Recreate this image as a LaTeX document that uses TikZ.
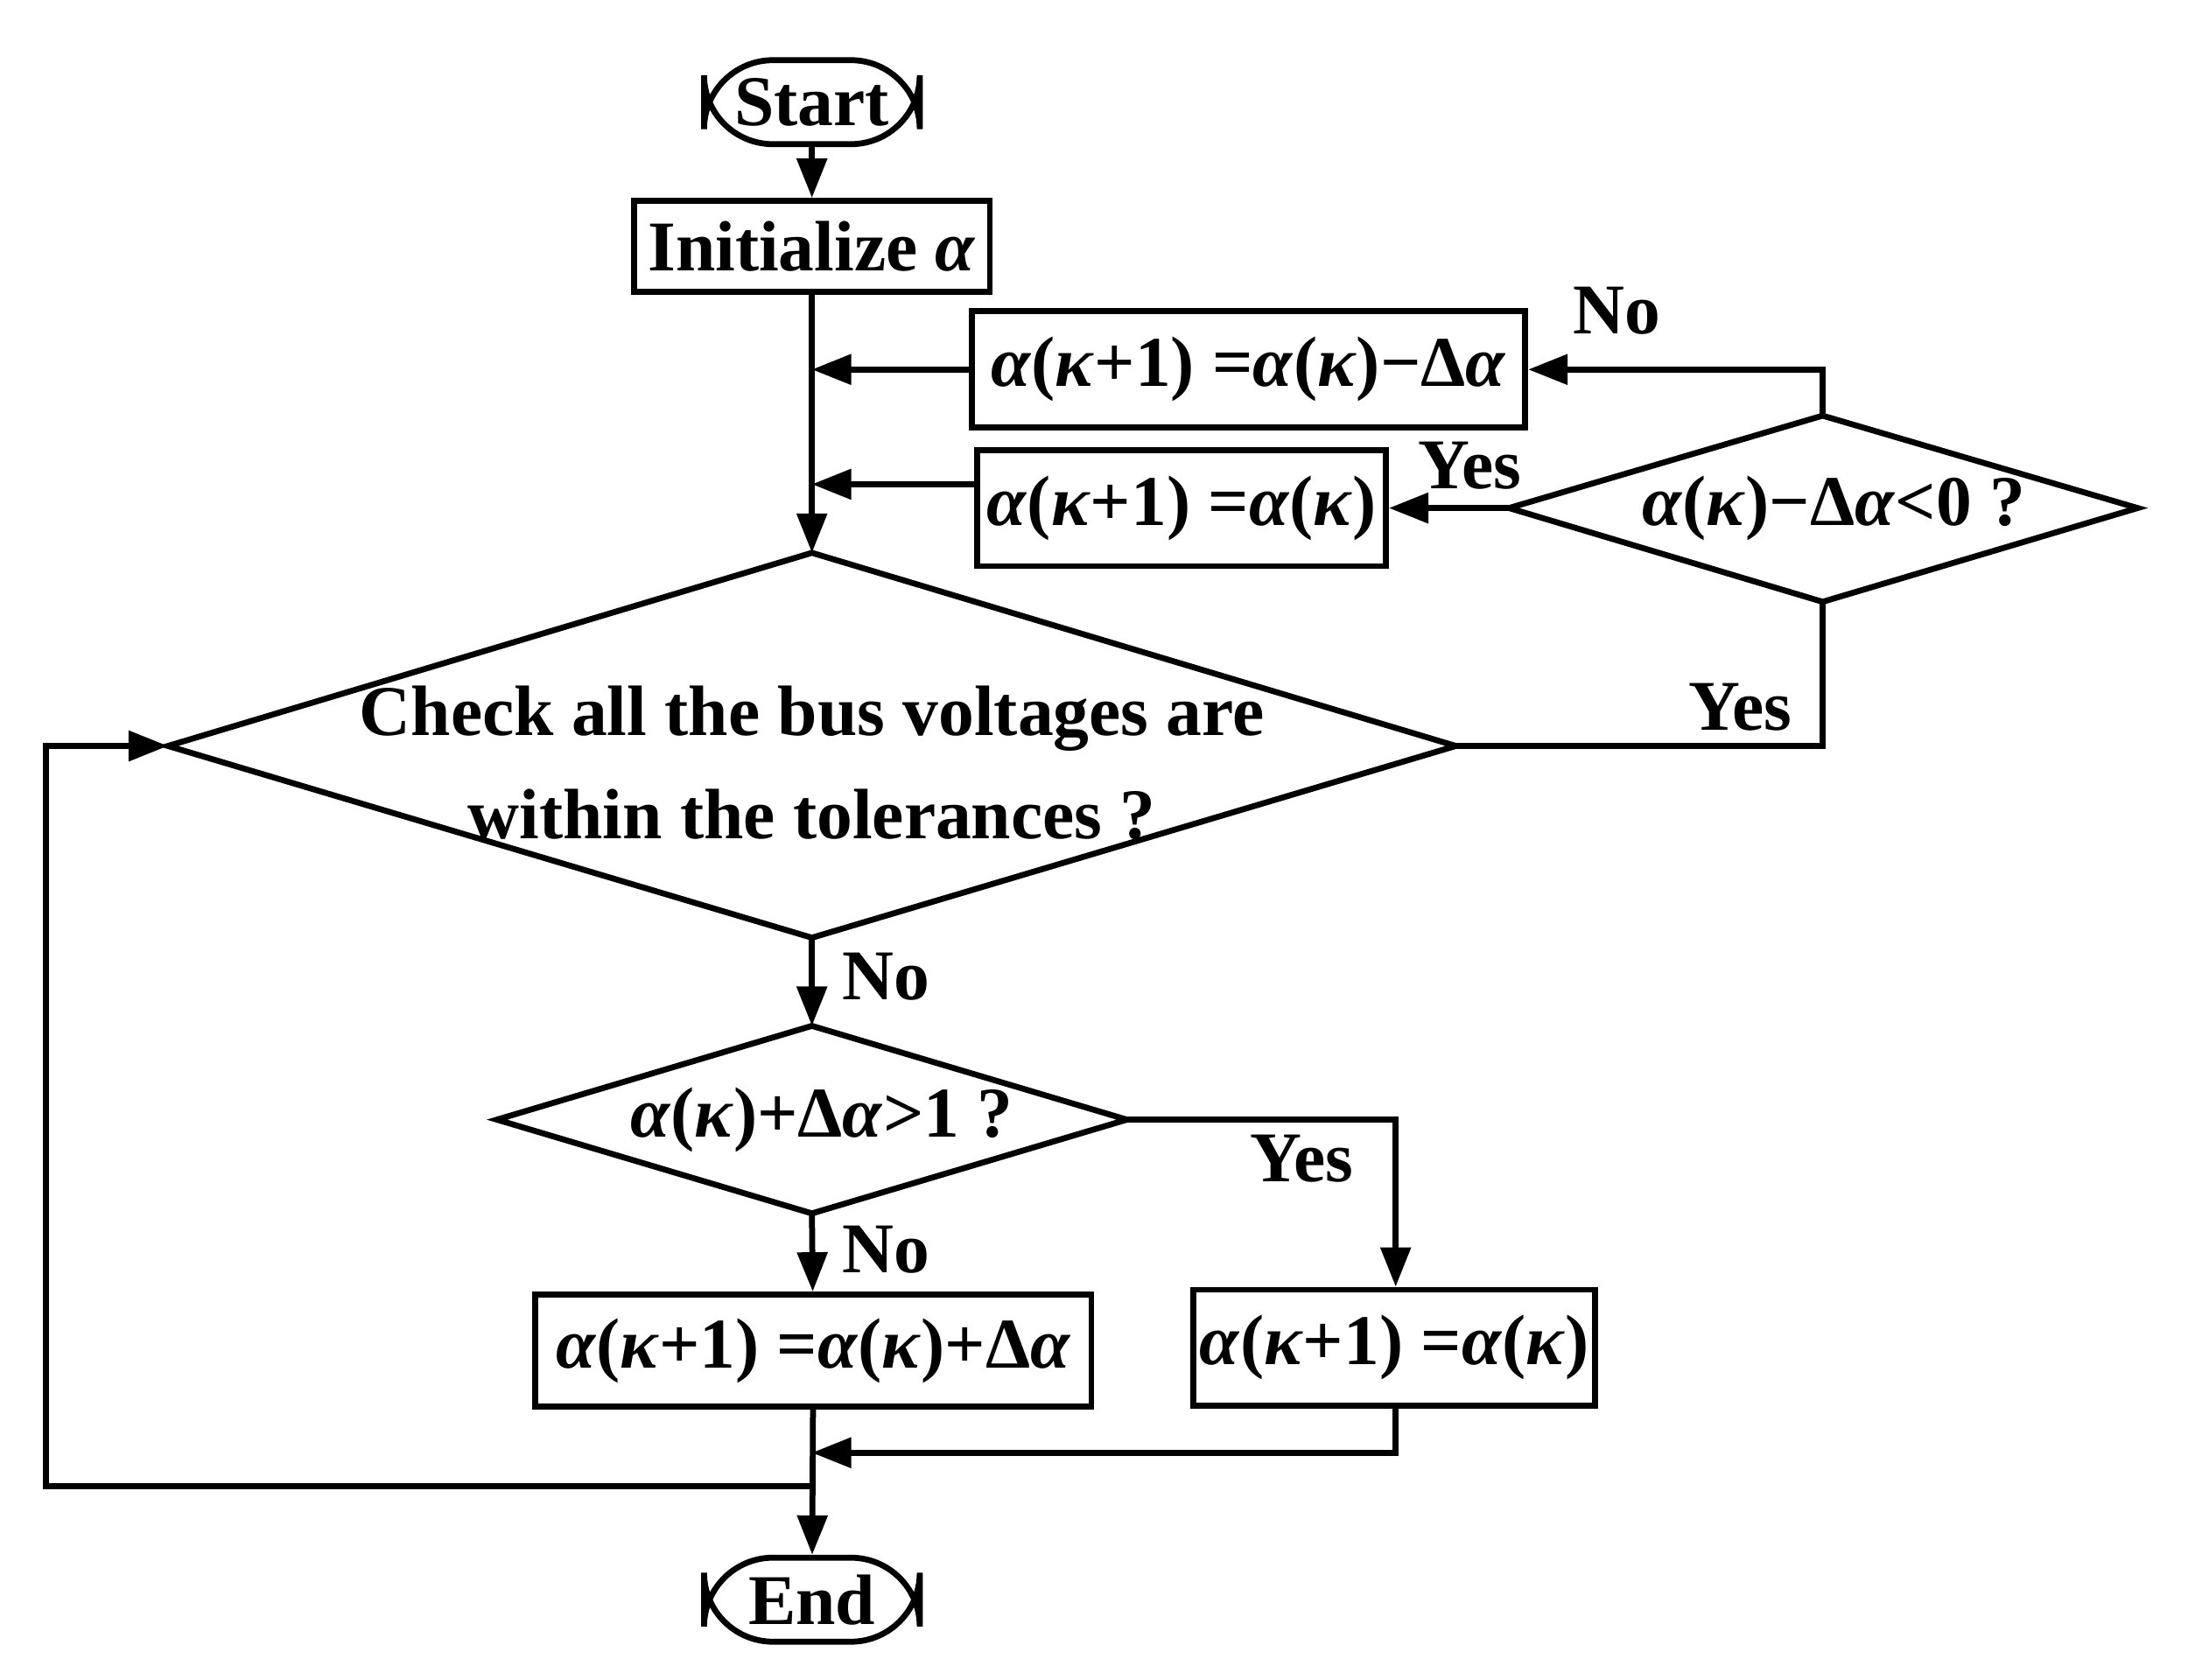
\documentclass[tikz,border=0pt]{standalone}
\usepackage{fontspec}
\setmainfont{Liberation Serif}
\usetikzlibrary{arrows.meta}
\newcommand{\al}{\textit{α}}
\newcommand{\ka}{\textit{κ}}
\begin{document}
\begin{tikzpicture}[x=0.01cm,y=-0.01cm,
  every node/.style={font=\fontsize{14.5}{17}\selectfont\bfseries},
  ln/.style={line width=1.2pt},
  ar/.style={ln,-{Triangle[length=8pt,width=6pt]}},
  box/.style={draw,line width=1.2pt,inner sep=0pt},
  term/.style={box,rounded corners=14pt},
  lab/.style={inner sep=0pt}]
\useasboundingbox (0,0) rectangle (1568,1200);
\node[term,minimum width=154\pgflinewidth*0+1.54cm,minimum height=0.6cm] (start) at (580,73) {Start};
\node[box,minimum width=2.54cm,minimum height=0.65cm] (init) at (580,176) {Initialize \al};
\node[box,minimum width=3.95cm,minimum height=0.83cm] (b1) at (892,264) {\al(\ka+1) =\al(\ka)−Δ\al};
\node[box,minimum width=2.92cm,minimum height=0.83cm] (b2) at (844,363) {\al(\ka+1) =\al(\ka)};
\node[box,minimum width=3.97cm,minimum height=0.80cm] (b3) at (581,965) {\al(\ka+1) =\al(\ka)+Δ\al};
\node[box,minimum width=2.87cm,minimum height=0.83cm] (b4) at (996,963) {\al(\ka+1) =\al(\ka)};
\node[term,minimum width=1.54cm,minimum height=0.6cm] (end) at (580,1143) {End};
% diamonds
\coordinate (dsT) at (1302,297); \coordinate (dsB) at (1302,430);
\coordinate (dsL) at (1078,363); \coordinate (dsR) at (1527,363);
\draw[ln] (dsT)--(dsR)--(dsB)--(dsL)--cycle;
\node[lab] (dst) at (1310,363) {\al(\ka)−Δ\al<0 ?};
\coordinate (bdT) at (580,395); \coordinate (bdB) at (580,670);
\coordinate (bdL) at (120,533); \coordinate (bdR) at (1040,533);
\draw[ln] (bdT)--(bdR)--(bdB)--(bdL)--cycle;
\node[lab,align=center] (bdt) at (580,545) {Check all the bus voltages are\\[4pt]within the tolerances ?};
\coordinate (d3T) at (580,733); \coordinate (d3B) at (580,867);
\coordinate (d3L) at (355,800); \coordinate (d3R) at (805,800);
\draw[ln] (d3T)--(d3R)--(d3B)--(d3L)--cycle;
\node[lab] (d3t) at (587,800) {\al(\ka)+Δ\al>1 ?};
% connectors
\draw[ar] (start)--(init);
\draw[ar] (init)--(bdT);
\draw[ar] (b1.west)--(580,264);
\draw[ar] (b2.west|-0,346)--(580,346);
\draw[ar] (dsT)--(1302,264)--(b1.east);
\draw[ar] (dsL)--(b2.east|-dsL);
\draw[ln] (bdR)--(1302,533)--(dsB);
\draw[ar] (bdB)--(d3T);
\draw[ar] (d3B)--(b3);
\draw[ar] (d3R)--(997,800)--(b4.north-|997,0);
\draw[ar] (b3)--(end);
\draw[ar] (b4.south-|997,0)--(997,1038)--(580,1038);
\draw[ar] (580,1062)--(33,1062)--(33,533)--(bdL);
% labels
\node[lab] (l1) at (1155,222) {No};
\node[lab] (l2) at (1050,333) {Yes};
\node[lab] (l3) at (1243,505) {Yes};
\node[lab] (l4) at (633,698) {No};
\node[lab] (l5) at (633,893) {No};
\node[lab] (l6) at (930,828) {Yes};
\end{tikzpicture}
\end{document}
